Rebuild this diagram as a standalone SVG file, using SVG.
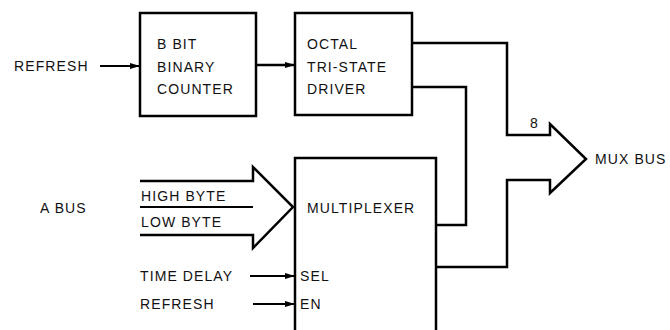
<svg xmlns="http://www.w3.org/2000/svg" width="670" height="330" viewBox="0 0 670 330">
<defs>
<marker id="ah" markerWidth="10" markerHeight="8" refX="10" refY="4" orient="auto" markerUnits="userSpaceOnUse">
<path d="M0,1 L10,4 L0,7 Z" fill="#000"/>
</marker>
<style>
text{font-family:"Liberation Sans",Arial,sans-serif;font-size:14px;letter-spacing:1.1px;fill:#111}
.box{fill:#fff;stroke:#000;stroke-width:2.5}
.w{fill:none;stroke:#000;stroke-width:2.5}
.s{fill:none;stroke:#000;stroke-width:1.8}
.bus{fill:none;stroke:#000;stroke-width:2.5;stroke-linejoin:miter}
</style>
</defs>
<rect width="670" height="330" fill="#fff"/>
<g id="refresh-top"><text x="14" y="71">REFRESH</text></g>
<g id="counter">
<rect class="box" x="140" y="13" width="116" height="103"/>
<text x="157" y="49">B BIT</text>
<text x="157" y="72">BINARY</text>
<text x="157" y="94">COUNTER</text>
</g>
<g id="driver">
<rect class="box" x="295" y="13" width="117" height="102"/>
<text x="307" y="49">OCTAL</text>
<text x="307" y="72">TRI-STATE</text>
<text x="307" y="94">DRIVER</text>
</g>
<g id="mux">
<path class="box" d="M295,331 V158 H436 V331"/>
<text x="307" y="213">MULTIPLEXER</text>
<text x="300" y="281">SEL</text>
<text x="300" y="309">EN</text>
</g>
<g id="abus">
<text x="40" y="213">A BUS</text>
<text x="141" y="201">HIGH BYTE</text>
<text x="141" y="227">LOW BYTE</text>
</g>
<g id="inputs">
<text x="140" y="281">TIME DELAY</text>
<text x="140" y="309">REFRESH</text>
</g>
<g id="muxbus"><text x="595" y="164">MUX BUS</text><text x="530" y="128">8</text></g>
<g id="connectors">
<line class="s" x1="100" y1="66" x2="140" y2="66" marker-end="url(#ah)"/>
<line class="w" x1="256" y1="65" x2="295" y2="65" marker-end="url(#ah)"/>
<line class="s" x1="250" y1="276" x2="295" y2="276" marker-end="url(#ah)"/>
<line class="s" x1="253" y1="304" x2="295" y2="304" marker-end="url(#ah)"/>
<path class="bus" d="M140,181 H253 V167 L293,207 L253,248 V235 H140"/>
<line class="s" x1="140" y1="207" x2="253" y2="207"/>
<path class="w" d="M412,87 H466 V225 H436"/>
<path class="bus" d="M412,43 H507 V135 H550 V124 L586,159 L550,193 V180 H507 V267 H436"/>
</g>
</svg>
